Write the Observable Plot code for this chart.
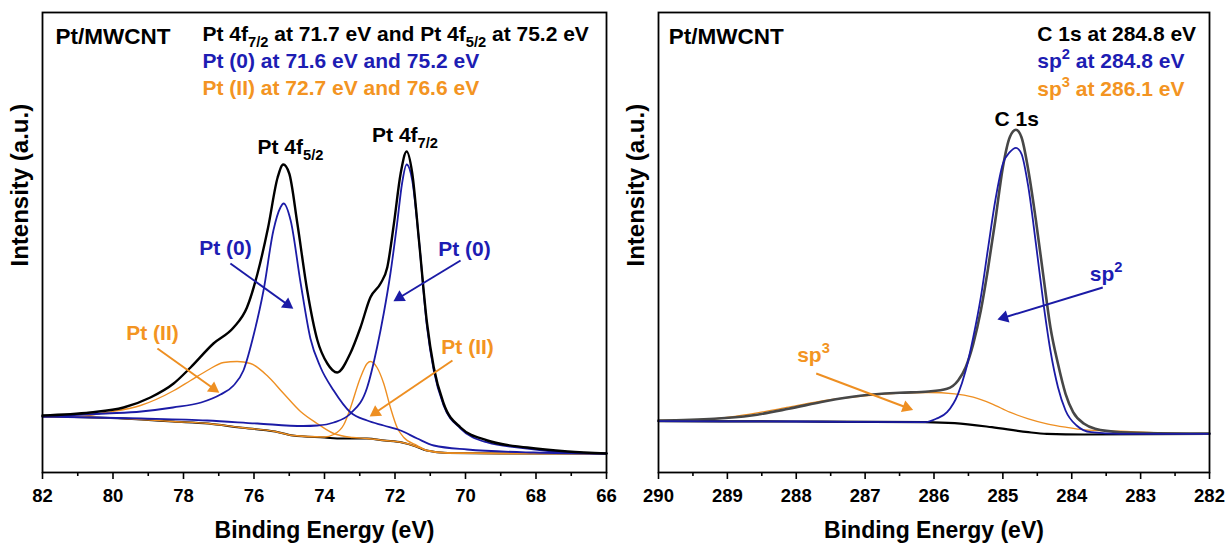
<!DOCTYPE html>
<html><head><meta charset="utf-8">
<script src="https://cdn.jsdelivr.net/npm/d3@7"></script>
<script src="https://cdn.jsdelivr.net/npm/@observablehq/plot@0.6"></script>
<style>
html,body{margin:0;padding:0;background:#fff;}
#wrap{position:relative;width:1227px;height:547px;overflow:hidden;}
#wrap svg{position:absolute;top:0;}
</style></head><body><div id="wrap"></div>
<script>
// ---------- DATA: Pt 4f panel (binding energy eV, intensity a.u.) ----------
const pt4fEnvelope = [[82,57],[80.64,60],[79.7,65],[78.94,75],[78.28,89],[77.8,105],[77.15,129],[76.58,145],[76.2,165],[75.9,199],[75.6,245],[75.33,295],[75.17,308],[75.0,299],[74.77,249],[74.49,182],[74.2,132],[73.92,109],[73.64,100],[73.27,119],[72.98,145],[72.7,175],[72.41,189],[72.22,205],[72.03,249],[71.84,299],[71.67,321],[71.51,299],[71.32,232],[71.09,149],[70.9,105],[70.62,69],[70.14,45],[69.38,32],[68.25,25],[67.1,21],[66,19]];
const pt4fBackground = [[82,56],[80.5,55],[79.2,53],[78.3,51],[77.3,49],[76.4,45],[75.4,41],[74.9,37],[74.0,35],[73.5,34],[72.8,34],[72.3,32],[71.8,30],[71.4,26],[71.1,22],[70.5,19.5],[69,19],[66,19]];
const pt0Peak752 = [[82,56],[80.2,59],[79.2,61],[78.3,65],[77.5,70],[76.95,78],[76.58,87],[76.3,102],[76.0,139],[75.73,182],[75.45,242],[75.25,265],[75.16,269],[74.96,252],[74.68,190],[74.4,134],[74.11,105],[73.74,82],[73.26,60],[72.79,52],[72.32,47],[71.84,42],[71.37,34],[70.9,27],[69.95,23],[68.06,20],[66,19]];
const pt0Peak716 = [[82,56],[79.2,54],[77.33,52],[75.9,49],[74.6,46.5],[74.2,47],[73.74,50],[73.26,59],[72.79,85],[72.51,125],[72.32,159],[72.13,199],[71.94,249],[71.8,289],[71.67,308],[71.51,292],[71.32,232],[71.09,145],[70.9,102],[70.62,67],[70.14,44],[69.38,30],[68.25,24],[67.1,20],[66,19]];
const pt2Peak766 = [[82,56],[81,56],[80.2,60],[79.22,67],[78.27,82],[77.8,92],[77.33,102],[76.86,110],[76.48,111],[76.1,109],[75.63,97],[75.16,79],[74.68,61],[74.21,49],[73.74,39],[73.2,35],[72.8,34],[72.3,32],[71.8,30],[71.4,26],[71.1,22],[70.5,19.5],[69,19],[66,19]];
const pt2Peak727 = [[82,56],[80.5,55],[79.2,53],[78.3,51],[77.3,49],[76.4,45],[75.4,41],[74.9,37],[74.0,35.5],[73.74,38],[73.45,48],[73.26,65],[72.98,95],[72.79,109],[72.7,111],[72.51,105],[72.32,89],[72.13,65],[71.94,45],[71.75,35],[71.37,27],[71.1,22],[70.5,19.5],[69,19],[66,19]];
const ptTicks = [82,80,78,76,74,72,70,68,66];
const ptMinorTicks = [81,79,77,75,73,71,69,67];
const ptNotes = [
  {x:81.63, y:436, text:"Pt/MWCNT", kind:"black", anchor:"start", role:"title"},
  {x:77.46, y:438, text:"Pt 4f_{7/2} at 71.7 eV and Pt 4f_{5/2} at 75.2 eV", kind:"black", anchor:"start"},
  {x:77.46, y:411, text:"Pt (0) at 71.6 eV and 75.2 eV", kind:"blue", anchor:"start"},
  {x:77.46, y:384, text:"Pt (II) at 72.7 eV and 76.6 eV", kind:"orange", anchor:"start"},
  {x:75.9, y:325, text:"Pt 4f_{5/2}", kind:"black", anchor:"start"},
  {x:72.65, y:337, text:"Pt 4f_{7/2}", kind:"black", anchor:"start"},
  {x:76.81, y:224, text:"Pt (0)", kind:"blue", anchor:"middle"},
  {x:78.88, y:139, text:"Pt (II)", kind:"orange", anchor:"middle"},
  {x:70.03, y:223, text:"Pt (0)", kind:"blue", anchor:"middle"},
  {x:69.94, y:125, text:"Pt (II)", kind:"orange", anchor:"middle"}
];
const ptArrows = [
  {x1:76.67, y1:209, x2:75.05, y2:168, kind:"blue"},
  {x1:78.74, y1:124, x2:77.15, y2:84, kind:"orange"},
  {x1:70.14, y1:212, x2:71.87, y2:175, kind:"blue"},
  {x1:70.37, y1:112, x2:72.55, y2:60, kind:"orange"}
];

// ---------- DATA: C 1s panel ----------
const c1sEnvelope = [[290,52],[289.19,53.7],[288.65,57],[288.11,63.7],[287.58,71.3],[287.04,77],[286.5,79.7],[286.08,81],[285.81,83.7],[285.65,92],[285.54,105.3],[285.43,128.7],[285.32,162],[285.22,202],[285.11,252],[285.0,305.3],[284.9,335.3],[284.81,342.7],[284.73,335.3],[284.63,302],[284.52,252],[284.41,195.3],[284.31,145.3],[284.2,108.7],[284.09,78.7],[283.98,60.3],[283.82,48.7],[283.66,43.7],[283.29,40.3],[282.75,39.3],[282,39]];
const c1sBackground = [[290,51.3],[288,51],[286.13,50.3],[285.7,49.3],[285.16,45.3],[284.63,40.3],[284.36,38.7],[283.82,38],[282,38.7]];
const sp2Peak = [[290,51.3],[288,51],[286.13,50.3],[285.97,53.7],[285.81,60.3],[285.65,78.7],[285.54,102],[285.43,135.3],[285.32,175.3],[285.22,222],[285.11,272],[285.0,308.7],[284.9,320.3],[284.81,324.7],[284.73,318.7],[284.63,285.3],[284.52,228.7],[284.41,168.7],[284.31,122],[284.2,85.3],[284.09,62],[283.93,47],[283.72,40.3],[283.29,38.7],[282,38.7]];
const sp3Peak = [[290,52],[289.19,53.7],[288.65,58.7],[288.11,65.3],[287.58,72],[287.04,76.3],[286.5,79.3],[286.08,80],[285.7,78.7],[285.43,75.3],[285.16,68.7],[284.9,60.3],[284.63,53.7],[284.36,48.7],[284.09,45.3],[283.82,42.7],[283.29,41.3],[282.75,39.7],[282,38.7]];
const cTicks = [290,289,288,287,286,285,284,283,282];
const cMinorTicks = [289.5,288.5,287.5,286.5,285.5,284.5,283.5,282.5];
const cNotes = [
  {x:289.85, y:436, text:"Pt/MWCNT", kind:"black", anchor:"start", role:"title"},
  {x:284.5, y:438, text:"C 1s at 284.8 eV", kind:"black", anchor:"start"},
  {x:284.5, y:411, text:"sp^{2} at 284.8 eV", kind:"blue", anchor:"start"},
  {x:284.5, y:383, text:"sp^{3} at 286.1 eV", kind:"orange", anchor:"start"},
  {x:284.8, y:353, text:"C 1s", kind:"black", anchor:"middle"},
  {x:283.5, y:198, text:"sp^{2}", kind:"blue", anchor:"middle"},
  {x:287.75, y:117, text:"sp^{3}", kind:"orange", anchor:"middle"}
];
const cArrows = [
  {x1:283.55, y1:185, x2:284.98, y2:155, kind:"blue"},
  {x1:287.71, y1:99, x2:286.4, y2:65, kind:"orange"}
];
const yMax = 460;

// ---------- STYLE ----------
const FONT = "'Liberation Sans', Arial, sans-serif";
const LINE = {black:"#000000", blue:"#1b1ba6", orange:"#ee8f22", gray:"#474747"};
const TEXT = {black:"#000000", blue:"#1d1db3", orange:"#f39422"};
const SIZE = {title: 22.5, note: 21, tick: 18.5, axisX: 23, axisY: 24};

function richify(svg) {
  const ns = "http://www.w3.org/2000/svg";
  svg.querySelectorAll("text").forEach(t => {
    if (t.querySelector("tspan")) return;
    const s = t.textContent;
    if (!/[_^]\{/.test(s)) return;
    t.textContent = "";
    const re = /([_^])\{([^}]*)\}/g;
    let last = 0, m, pending = 0;
    const addNormal = str => {
      if (!str) return;
      const ts = document.createElementNS(ns, "tspan");
      if (pending) ts.setAttribute("dy", (-pending) + "em");
      pending = 0;
      ts.textContent = str; t.appendChild(ts);
    };
    while ((m = re.exec(s))) {
      addNormal(s.slice(last, m.index));
      const ts = document.createElementNS(ns, "tspan");
      ts.setAttribute("font-size", "70%");
      const shift = m[1] === "_" ? 0.26 : -0.42;
      ts.setAttribute("dy", ((shift - pending) / 0.7) + "em");
      pending = shift;
      ts.textContent = m[2]; t.appendChild(ts);
      last = re.lastIndex;
    }
    addNormal(s.slice(last));
  });
}

function panel({width, marginLeft, marginRight, domain, ticks, minor, lines, notes, arrows}) {
  const height = 547, marginTop = 12, marginBottom = 75;
  const xs = d3.scaleLinear(domain, [marginLeft, width - marginRight]);
  const ys = d3.scaleLinear([0, yMax], [height - marginBottom, marginTop]);
  const heads = arrows.map(a => {
    const ang = Math.atan2(ys(a.y2) - ys(a.y1), xs(a.x2) - xs(a.x1)) * 180 / Math.PI;
    return {...a, rot: ang + 90};
  });
  const marks = [];
  for (const l of lines) {
    marks.push(Plot.line(l.data, {x: d => d[0], y: d => d[1], stroke: l.color, strokeWidth: l.width, curve: "monotone-x"}));
  }
  marks.push(
    Plot.link(arrows, {x1: "x1", y1: "y1", x2: "x2", y2: "y2", stroke: a => LINE[a.kind], strokeWidth: 2}),
    Plot.dot(heads, {x: "x2", y: "y2", symbol: "triangle", r: 4.6, fill: a => LINE[a.kind], stroke: "none", rotate: "rot"})
  );
  for (const anchor of ["start", "middle"]) {
    for (const role of ["title", "note"]) {
      const sub = notes.filter(n => n.anchor === anchor && (n.role || "note") === role);
      if (!sub.length) continue;
      marks.push(Plot.text(sub, {x: "x", y: "y", text: "text", fill: n => TEXT[n.kind], textAnchor: anchor, fontSize: SIZE[role], fontWeight: "bold", lineAnchor: "middle"}));
    }
  }
  marks.push(
    Plot.frame({stroke: "#000", strokeWidth: 1.8}),
    Plot.axisX(minor, {tickSize: 4, tickFormat: () => "", strokeWidth: 1.6, label: null}),
    Plot.axisX(ticks, {tickSize: 7, tickPadding: 9, strokeWidth: 1.6, fontSize: SIZE.tick, fontWeight: "bold", fill: "#000", label: null, tickFormat: d => String(d)}),
    Plot.text(["Binding Energy (eV)"], {text: d => d, frameAnchor: "bottom", dy: 58, lineAnchor: "middle", fontSize: SIZE.axisX, fontWeight: "bold", fill: "#000"}),
    Plot.text(["Intensity (a.u.)"], {text: d => d, frameAnchor: "left", rotate: -90, dx: -22, dy: 24, lineAnchor: "middle", fontSize: SIZE.axisY, fontWeight: "bold", fill: "#000"})
  );
  const svg = Plot.plot({
    width, height, marginLeft, marginRight, marginTop, marginBottom,
    x: {domain, axis: null},
    y: {domain: [0, yMax], axis: null},
    style: {fontFamily: FONT, background: "transparent", color: "#000", overflow: "visible"},
    marks
  });
  richify(svg);
  return svg;
}

const wrap = document.getElementById("wrap");
const left = panel({
  width: 620, marginLeft: 42, marginRight: 14, domain: [82, 66],
  ticks: ptTicks, minor: ptMinorTicks, notes: ptNotes, arrows: ptArrows,
  lines: [
    {data: pt4fBackground, color: LINE.black, width: 2},
    {data: pt2Peak766, color: LINE.orange, width: 1.4},
    {data: pt2Peak727, color: LINE.orange, width: 1.4},
    {data: pt0Peak752, color: LINE.blue, width: 1.8},
    {data: pt0Peak716, color: LINE.blue, width: 1.8},
    {data: pt4fEnvelope, color: LINE.black, width: 2.4}
  ]
});
left.style.left = "0px";
wrap.appendChild(left);

const right = panel({
  width: 607, marginLeft: 38, marginRight: 18, domain: [290, 282],
  ticks: cTicks, minor: cMinorTicks, notes: cNotes, arrows: cArrows,
  lines: [
    {data: c1sBackground, color: LINE.black, width: 2.2},
    {data: sp3Peak, color: LINE.orange, width: 1.3},
    {data: c1sEnvelope, color: LINE.gray, width: 2.6},
    {data: sp2Peak, color: LINE.blue, width: 1.8}
  ]
});
right.style.left = "620px";
wrap.appendChild(right);
</script></body></html>
